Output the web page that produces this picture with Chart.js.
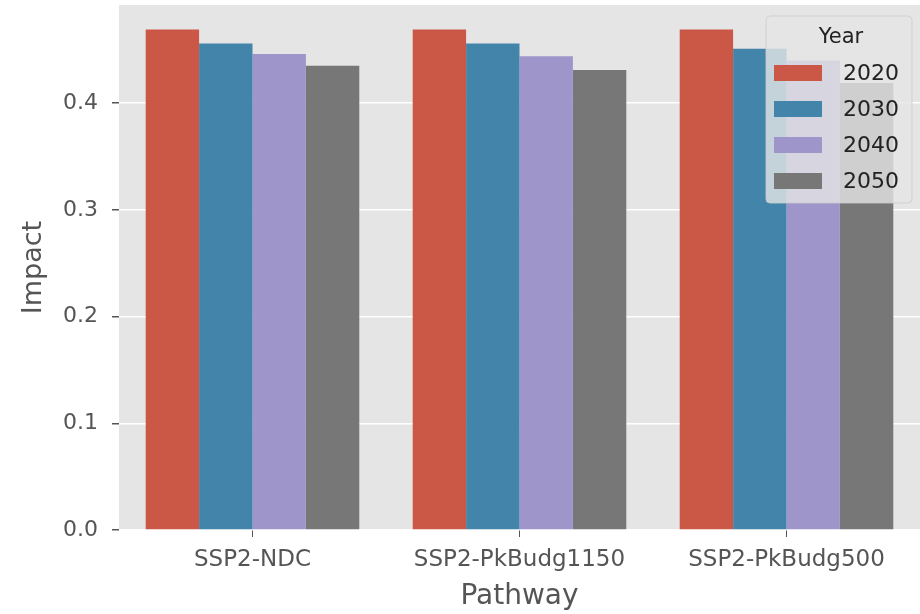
<!DOCTYPE html>
<html>
<head>
<meta charset="utf-8">
<script src="https://cdn.jsdelivr.net/npm/chart.js@4"></script>
<style>
  html, body { margin: 0; padding: 0; background: #fff; }
  #wrap { width: 920px; height: 614px; position: relative; }
</style>
</head>
<body>
<div id="wrap"><canvas id="impact-chart"></canvas></div>
<script>
// data
const pathways = ['SSP2-NDC', 'SSP2-PkBudg1150', 'SSP2-PkBudg500'];
const years = ['2020', '2030', '2040', '2050'];
const impact2020 = [0.469, 0.469, 0.469];
const impact2030 = [0.456, 0.456, 0.451];
const impact2040 = [0.446, 0.444, 0.440];
const impact2050 = [0.435, 0.431, 0.419];
const yTicks = [0.0, 0.1, 0.2, 0.3, 0.4];

const colors = ['rgb(203, 88, 71)', 'rgb(67, 133, 170)', 'rgb(158, 150, 203)', 'rgb(119, 119, 119)'];
const seriesValues = [impact2020, impact2030, impact2040, impact2050];

const FONT = '"DejaVu Sans", sans-serif';

// grey panel behind the plot, ggplot style
const panelBg = {
    id: 'panelBg',
    beforeDraw(chart) {
        const a = chart.chartArea, ctx = chart.ctx;
        ctx.save();
        ctx.fillStyle = '#e5e5e5';
        ctx.fillRect(a.left, a.top, a.right - a.left, a.bottom - a.top);
        ctx.restore();
    }
};

// legend sits inside the plot, top right, like matplotlib
const innerLegend = {
    id: 'innerLegend',
    afterDraw(chart) {
        const a = chart.chartArea, ctx = chart.ctx;
        const w = 146, h = 187;
        const x = a.right - 8 - w, y = a.top + 11;
        ctx.save();
        ctx.beginPath();
        ctx.roundRect(x, y, w, h, 4);
        ctx.fillStyle = 'rgba(229, 229, 229, 0.8)';
        ctx.fill();
        ctx.strokeStyle = 'rgba(204, 204, 204, 0.8)';
        ctx.lineWidth = 1;
        ctx.stroke();

        ctx.fillStyle = '#222';
        ctx.font = '21px ' + FONT;
        ctx.textAlign = 'center';
        ctx.textBaseline = 'middle';
        ctx.fillText('Year', x + w / 2 + 2, y + 22);

        ctx.font = '22px ' + FONT;
        ctx.textAlign = 'left';
        chart.data.datasets.forEach(function(ds, i) {
            const cy = y + 57 + i * 36;
            ctx.fillStyle = ds.backgroundColor;
            ctx.fillRect(x + 8, cy - 8, 48, 16);
            ctx.fillStyle = '#222';
            ctx.fillText(ds.label, x + 77, cy + 1);
        });
        ctx.restore();
    }
};

const data = {
    labels: pathways,
    datasets: years.map(function(yr, i) {
        return {
            label: yr,
            data: seriesValues[i],
            backgroundColor: colors[i],
            borderWidth: 0
        };
    })
};

const config = {
    type: 'bar',
    data: data,
    options: {
        responsive: true,
        maintainAspectRatio: false,
        animation: false,
        layout: { padding: { top: 5, right: 0, left: 0, bottom: 0 } },
        datasets: {
            bar: { categoryPercentage: 0.8, barPercentage: 1.0 }
        },
        plugins: {
            legend: { display: false },
            tooltip: { enabled: false }
        },
        scales: {
            x: {
                border: { display: false },
                grid: {
                    display: true,
                    drawOnChartArea: false,
                    drawTicks: true,
                    offset: false,
                    tickLength: 7,
                    tickColor: '#555'
                },
                ticks: {
                    color: '#555',
                    font: { family: FONT, size: 23 },
                    padding: 9,
                    maxRotation: 0
                },
                title: {
                    display: true,
                    text: 'Pathway',
                    color: '#555',
                    font: { family: FONT, size: 28 },
                    padding: { top: 0, bottom: 0 }
                },
                afterFit(scale) {
                    scale.height = 84;
                    scale.paddingLeft = 0;
                    scale.paddingRight = 0;
                }
            },
            y: {
                min: 0,
                max: 0.492,
                border: { display: false },
                grid: {
                    color: '#ffffff',
                    lineWidth: 1.5,
                    drawTicks: true,
                    tickLength: 7,
                    tickColor: '#555'
                },
                ticks: {
                    color: '#555',
                    font: { family: FONT, size: 22 },
                    padding: 14,
                    callback: function(v) { return Number(v).toFixed(1); }
                },
                afterBuildTicks(scale) {
                    scale.ticks = yTicks.map(function(v) { return { value: v }; });
                },
                title: {
                    display: true,
                    text: 'Impact',
                    color: '#555',
                    font: { family: FONT, size: 27 },
                    padding: { top: 18, bottom: 0 }
                },
                afterFit(scale) {
                    scale.width = 119;
                    scale.paddingTop = 0;
                    scale.paddingBottom = 0;
                }
            }
        }
    },
    plugins: [panelBg, innerLegend]
};

const chart = new Chart(document.getElementById('impact-chart'), config);
</script>
</body>
</html>
